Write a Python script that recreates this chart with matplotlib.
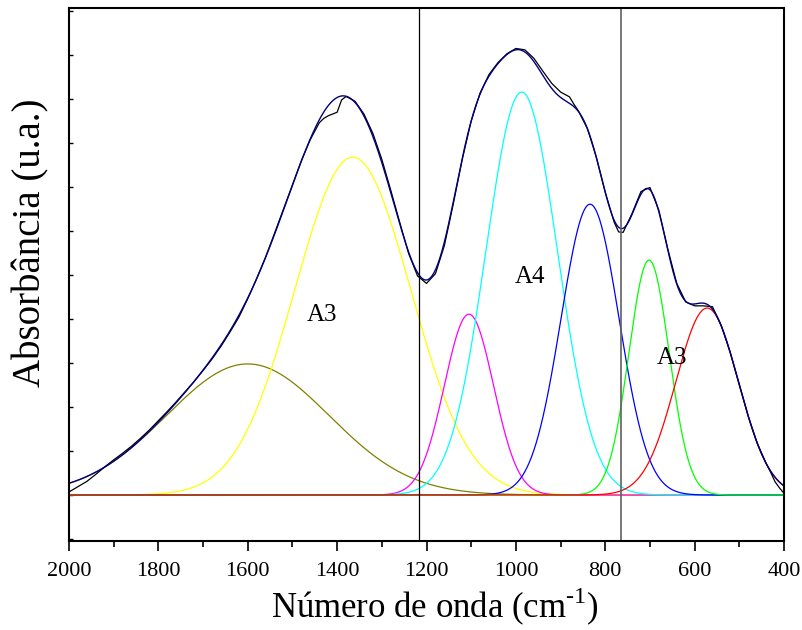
import numpy as np
import matplotlib
matplotlib.use("Agg")
import matplotlib.pyplot as plt
from matplotlib.ticker import MultipleLocator

# Measured absorbance spectrum (cm-1, a.u.)
wavenumber = [2000, 1980, 1960, 1940, 1920, 1900, 1880, 1860, 1840, 1820,
              1800, 1780, 1760, 1740, 1720, 1700, 1680, 1660, 1640, 1620,
              1600, 1580, 1560, 1540, 1520, 1500, 1480, 1460, 1440, 1430,
              1420, 1410, 1400, 1390, 1380, 1360, 1340, 1320, 1300, 1280,
              1260, 1240, 1220, 1200, 1180, 1160, 1140, 1120, 1100, 1080,
              1060, 1040, 1020, 1000, 980, 960, 940, 920, 900, 880,
              870, 860, 840, 820, 800, 780, 770, 760, 740, 720,
              700, 680, 660, 640, 620, 600, 580, 560, 540, 520,
              500, 480, 460, 440, 430, 420, 410, 400]
absorbance = [0.007, 0.019, 0.031, 0.047, 0.064, 0.080, 0.095, 0.111, 0.129, 0.148,
              0.169, 0.190, 0.212, 0.235, 0.258, 0.283, 0.309, 0.338, 0.370, 0.404,
              0.446, 0.492, 0.541, 0.595, 0.650, 0.705, 0.760, 0.808, 0.846, 0.856,
              0.862, 0.866, 0.870, 0.898, 0.906, 0.895, 0.866, 0.822, 0.763, 0.693,
              0.620, 0.549, 0.498, 0.481, 0.503, 0.567, 0.662, 0.763, 0.850, 0.914,
              0.956, 0.983, 1.003, 1.015, 1.012, 0.993, 0.964, 0.936, 0.916, 0.905,
              0.888, 0.873, 0.833, 0.768, 0.688, 0.620, 0.598, 0.597, 0.640, 0.690,
              0.699, 0.647, 0.559, 0.481, 0.439, 0.430, 0.430, 0.428, 0.384, 0.323,
              0.250, 0.179, 0.118, 0.072, 0.052, 0.030, 0.016, 0.004]

# Gaussian components of the band deconvolution: centre (cm-1), height (a.u.), sigma (cm-1)
centers = [1600, 1365, 1105, 987, 834, 702, 572]
heights = [0.298, 0.768, 0.411, 0.916, 0.661, 0.534, 0.425]
sigmas = [182, 130, 55, 80, 65, 45, 70]
colors = ["#808000", "#ffff00", "#ff00ff", "#00ffff", "#0000ff", "#00ff00", "#ff0000"]

region_bounds = [1217, 765]
region_labels = ["A3", "A4", "A3"]
region_label_pos = [(1434, 0.41), (969, 0.495), (651, 0.311)]

plt.rcParams["font.family"] = ["Liberation Serif", "DejaVu Serif"]

x = np.linspace(2000, 400, 1601)
comps = [h * np.exp(-(x - c) ** 2 / (2 * s ** 2)) for c, h, s in zip(centers, heights, sigmas)]
fit = np.sum(comps, axis=0)

fig = plt.figure(figsize=(8.03, 6.30), dpi=100)
ax = fig.add_axes([69 / 803, 1 - 541 / 630, 715 / 803, 533 / 630])

for comp, col in zip(comps, colors):
    ax.plot(x, comp, color=col, lw=0.9)
ax.plot(wavenumber, absorbance, color="black", lw=0.9)
ax.plot(x, fit, color="#000080", lw=1.0)

ax.axvline(region_bounds[0], color="black", lw=0.9)
ax.axvline(region_bounds[1], color="#606060", lw=1.2)

for lab, (px, py) in zip(region_labels, region_label_pos):
    ax.text(px, py, lab, fontsize=18, ha="center", va="center")

ax.set_xlim(2000, 400)
ax.set_ylim(-0.1045, 1.107)
ax.xaxis.set_major_locator(MultipleLocator(200))
ax.xaxis.set_minor_locator(MultipleLocator(100))
ax.yaxis.set_major_locator(MultipleLocator(0.1))
ax.tick_params(axis="x", which="major", direction="out", length=7, width=1.2, labelsize=16, pad=8)
ax.tick_params(axis="x", which="minor", direction="out", length=4, width=1.2)
ax.tick_params(axis="y", which="major", direction="in", length=3, width=1.0, labelleft=False)
for sp in ax.spines.values():
    sp.set_linewidth(1.5)

ax.set_xlabel("Número de onda (cm$^{\\mathregular{\u2010}\\mathregular{1}}$)", fontsize=25)
ax.xaxis.set_label_coords(0.512, -0.084)
ax.set_ylabel("Absorbância (u.a.)", fontsize=28)
ax.yaxis.set_label_coords(-0.027, 0.559)

fig.savefig("out.png", dpi=100)
